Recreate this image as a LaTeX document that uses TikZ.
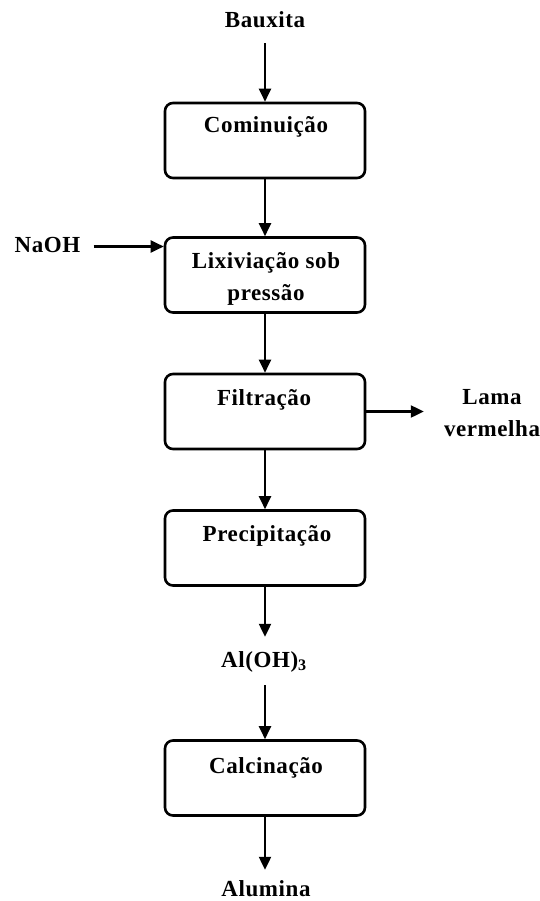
\documentclass[tikz,border=0pt]{standalone}
\usepackage{fontspec}
\setmainfont{Liberation Serif}[LetterSpace=2.5]
\usetikzlibrary{arrows.meta}
\begin{document}
\begin{tikzpicture}[x=1pt,y=1pt,
  font=\fontsize{23}{32}\selectfont\bfseries,
  box/.style={draw, line width=2.6pt, rounded corners=8pt, minimum width=200pt, minimum height=75pt, inner sep=0pt},
  lbl/.style={inner sep=0pt, anchor=base, text height=16pt, text depth=5pt, align=center},
  lbltwo/.style={inner sep=0pt, anchor=north, align=center},
  arr/.style={line width=2.2pt, -{Triangle[length=13pt,width=12pt]}}
]
\useasboundingbox (0,0) rectangle (539,-901);
% boxes
\node[box] (b1) at (265,-140.5) {};
\node[box] (b2) at (265,-275) {};
\node[box] (b3) at (265,-411.5) {};
\node[box] (b4) at (265,-548) {};
\node[box] (b5) at (265,-778) {};
% box texts
\node[lbl] (t1) at (266,-133) {Cominuição};
\node[lbltwo] (t2) at (266,-252) {Lixiviação sob\\pressão};
\node[lbl] (t3) at (264,-405) {Filtração};
\node[lbl] (t4) at (267,-541) {Precipitação};
\node[lbl] (t5) at (266,-773) {Calcinação};
% outer texts
\node[lbl] (bauxita) at (265,-28) {Bauxita};
\node[lbl] (naoh) at (47.5,-252) {NaOH};
\node[lbltwo] (lama) at (492,-389) {Lama\\vermelha};
\node[lbl] (aloh) at (264,-667) {Al(OH)$_{\mathbf{3}}$};
\node[lbl, text depth=0pt] (alumina) at (266,-896) {Alumina};
% connectors
\draw[arr, shorten <=10pt] (bauxita.south -| b1.north) -- (b1.north);
\draw[arr] (b1.south) -- (b2.north);
\draw[arr, shorten <=13pt] (naoh.east) -- (naoh.east -| b2.west);
\draw[arr] (b2.south) -- (b3.north);
\draw[arr, shorten >=20pt] (b3.east) -- (b3.east -| lama.west);
\draw[arr] (b3.south) -- (b4.north);
\draw[arr, shorten >=14pt] (b4.south) -- (b4.south |- aloh.north);
\draw[arr, shorten <=13pt] (b5.north |- aloh.south) -- (b5.north);
\draw[arr, shorten >=10pt] (b5.south) -- (b5.south |- alumina.north);
\end{tikzpicture}
\end{document}
